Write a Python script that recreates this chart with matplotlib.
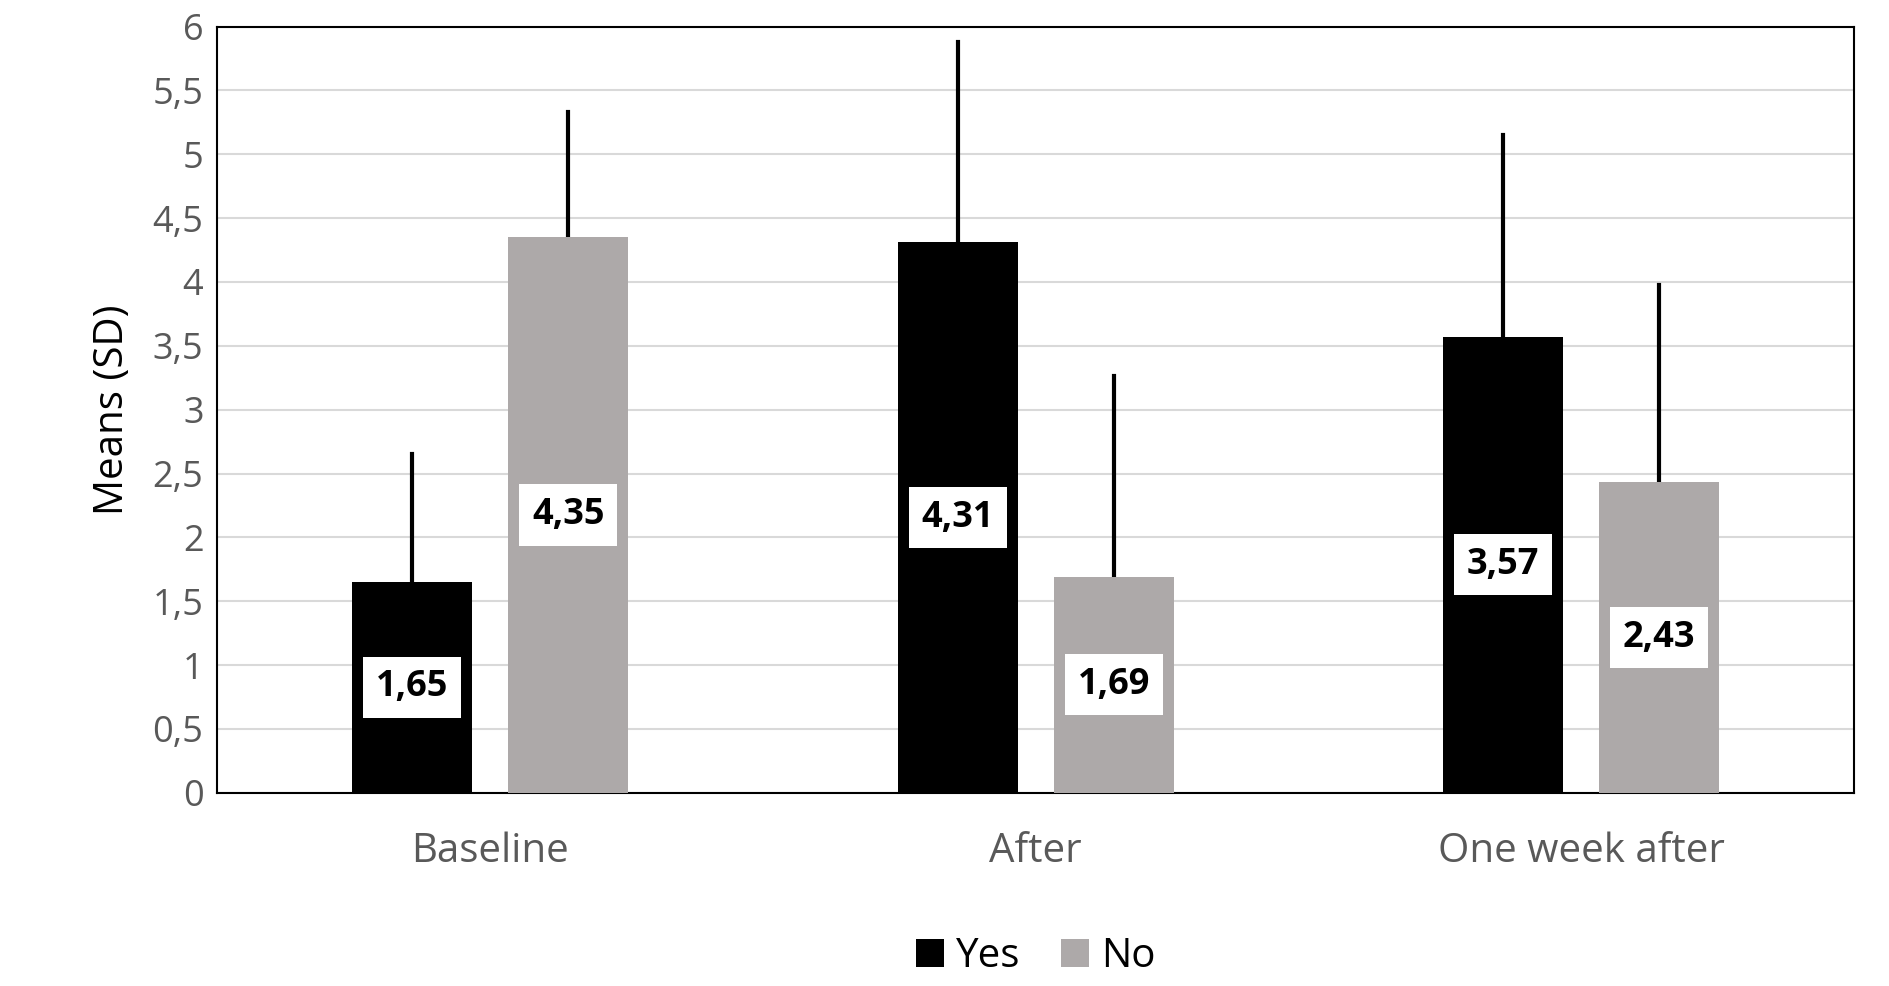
import matplotlib
matplotlib.use('Agg')
import matplotlib.pyplot as plt
import numpy as np

plt.rcParams['font.family'] = ['Open Sans', 'DejaVu Sans']

groups = ['Baseline', 'After', 'One week after']
yes_mean = [1.65, 4.31, 3.57]
yes_sd = [1.00, 1.57, 1.58]
no_mean = [4.35, 1.69, 2.43]
no_sd = [0.98, 1.57, 1.55]

fig = plt.figure(figsize=(18.9, 9.86), dpi=100)
ax = fig.add_axes([0.115, 0.196, 0.866, 0.777])

x = np.arange(len(groups))
w = 0.22
off = 0.143
tc = '#595959'

for means, sds, dx, col, lab in [(yes_mean, yes_sd, -off, 'black', 'Yes'),
                                  (no_mean, no_sd, off, '#ada9a9', 'No')]:
    ax.bar(x + dx, means, w, color=col, label=lab, zorder=3)
    for xi, m, s in zip(x + dx, means, sds):
        ax.plot([xi, xi], [m, m + s], color='black', lw=3, zorder=2)
        ax.text(xi, m / 2, f'{m:.2f}'.replace('.', ','), ha='center', va='center',
                fontsize=26, fontweight='bold', color='black', zorder=4,
                bbox=dict(boxstyle='square,pad=0.35', facecolor='white', edgecolor='none'))

ax.set_xlim(-0.5, 2.5)
ax.set_ylim(0, 6)
ax.set_yticks(np.arange(0, 6.01, 0.5))
ax.set_yticklabels([f'{v:g}'.replace('.', ',') for v in np.arange(0, 6.01, 0.5)])
ax.set_xticks(x)
ax.set_xticklabels(groups)
ax.tick_params(axis='y', labelsize=26, colors=tc, length=0, pad=10)
ax.tick_params(axis='x', labelsize=29, colors=tc, length=0, pad=28)
ax.grid(axis='y', color='#d9d9d9', lw=1.5, zorder=0)
ax.set_axisbelow(True)
for sp in ax.spines.values():
    sp.set_color('black')
    sp.set_linewidth(1.5)
ax.set_ylabel('Means (SD)', fontsize=29, color='black', labelpad=14)

ax.legend(loc='upper center', bbox_to_anchor=(0.5, -0.14), ncol=2, frameon=False,
          fontsize=29, handlelength=0.7, handleheight=0.7, columnspacing=1.0,
          handletextpad=0.3, labelcolor='black')

fig.savefig('out.png', dpi=100, facecolor='white')
